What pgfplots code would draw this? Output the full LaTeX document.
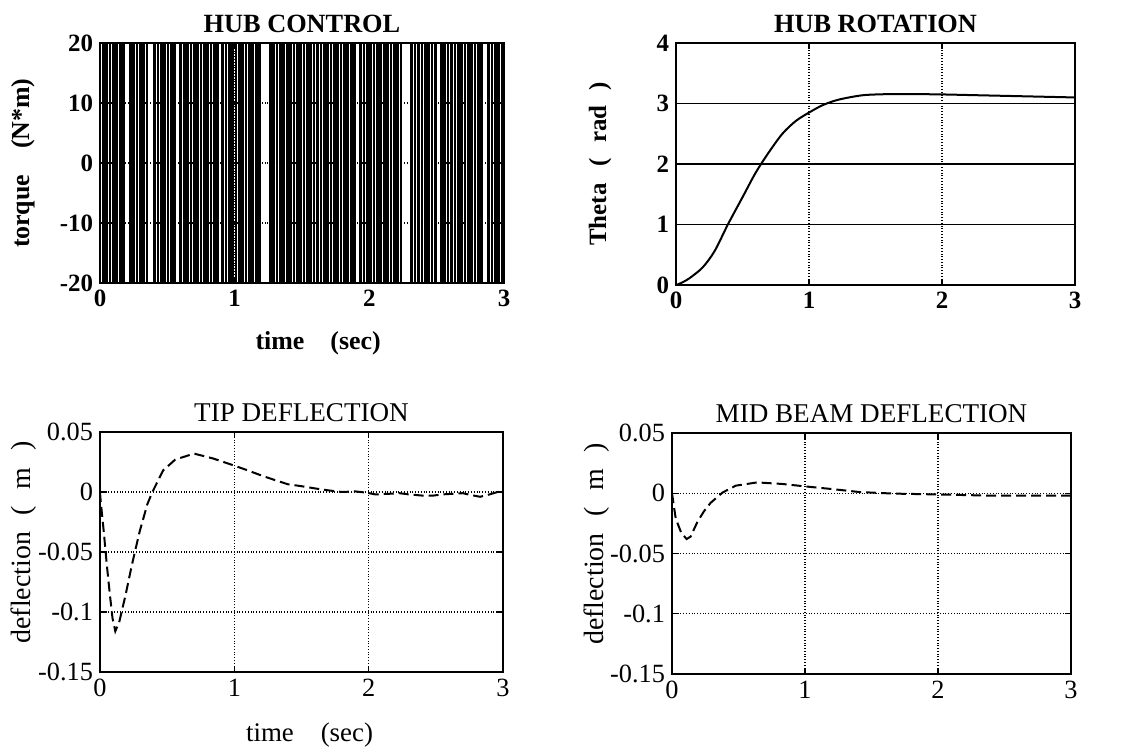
\documentclass[border=0pt]{standalone}
\usepackage{pgfplots}
\pgfplotsset{compat=1.18}
\usepackage{fontspec}
\setmainfont{Liberation Serif}

\pgfplotsset{
  every axis title/.style={at={(axis description cs:0.5,1.08)}, anchor=center},
  panel/.style={
    scale only axis, xmin=0, xmax=3,
    xtick={0,1,2,3}, xticklabels={0,1,2,3},
    axis line style={line width=1bp},
    tick style={line width=0.6bp, black}, major tick length=3bp,
    grid=major, grid style={densely dotted, line width=0.6bp, black},
    ylabel style={at={(axis description cs:-0.19,0.5)}, anchor=center},
  },
  boldtext/.style={
    ticklabel style={font=\bfseries\fontsize{12.5}{14}\selectfont},
    label style={font=\bfseries\fontsize{13}{15}\selectfont},
    title style={font=\bfseries\fontsize{13.2}{15}\selectfont},
  },
  plaintext/.style={
    ticklabel style={font=\fontsize{13.2}{15}\selectfont},
    label style={font=\fontsize{13.5}{15}\selectfont},
    title style={font=\fontsize{13.6}{15}\selectfont},
  },
  defl/.style={
    ymin=-0.15, ymax=0.05,
    ytick={-0.15,-0.1,-0.05,0,0.05},
    yticklabels={-0.15,-0.1,-0.05,0,0.05},
    ylabel={deflection\hspace{0.6em}(\hspace{0.6em}m\hspace{0.6em})},
    ylabel style={at={(axis description cs:-0.19,0.54)}, font=\fontsize{14}{16}\selectfont},
  },
}

\begin{document}
\begin{tikzpicture}
\path[use as bounding box] (0,0) rectangle (560.5bp,376bp);

% hub control
\begin{axis}[panel, boldtext, axis on top,
  at={(50bp,234.5bp)}, width=202bp, height=120bp,
  ymin=-20, ymax=20, ytick={-20,-10,0,10,20}, yticklabels={-20,-10,0,10,20},
  title={HUB CONTROL},
  ylabel={torque\quad(N*m)},
  xlabel={time\quad(sec)},
  xlabel style={at={(axis description cs:0.54,-0.25)}, anchor=center},
]
\addplot[const plot, black, line width=1.35bp] coordinates {
(0,20)(0.025,-20)(0.05,20)(0.075,-20)
(0.1,20)(0.125,-20)(0.15,20)(0.175,-20)
(0.225,20)(0.25,-20)(0.275,20)(0.3,-20)
(0.325,20)(0.35,-20)(0.405,20)(0.43,-20)
(0.455,20)(0.48,-20)(0.505,20)(0.53,-20)
(0.555,20)(0.6,-20)(0.625,20)(0.65,-20)
(0.675,20)(0.7,-20)(0.725,20)(0.75,-20)
(0.775,20)(0.8,-20)(0.825,20)(0.85,-20)
(0.875,20)(0.91,-20)(0.935,20)(0.96,-20)
(0.985,20)(1.01,-20)(1.035,20)(1.06,-20)
(1.085,20)(1.11,-20)(1.135,20)(1.16,-20)
(1.185,20)(1.265,-20)(1.29,20)(1.315,-20)
(1.34,20)(1.365,-20)(1.39,20)(1.415,-20)
(1.44,20)(1.465,-20)(1.49,20)(1.515,-20)
(1.54,20)(1.565,-20)(1.59,20)(1.615,-20)
(1.64,20)(1.665,-20)(1.69,20)(1.715,-20)
(1.74,20)(1.765,-20)(1.79,20)(1.815,-20)
(1.84,20)(1.865,-20)(1.89,20)(1.935,-20)
(1.96,20)(1.985,-20)(2.01,20)(2.035,-20)
(2.06,20)(2.085,-20)(2.11,20)(2.135,-20)
(2.16,20)(2.185,-20)(2.21,20)(2.235,-20)
(2.315,20)(2.34,-20)(2.365,20)(2.39,-20)
(2.415,20)(2.44,-20)(2.465,20)(2.49,-20)
(2.535,20)(2.56,-20)(2.585,20)(2.61,-20)
(2.635,20)(2.66,-20)(2.685,20)(2.71,-20)
(2.735,20)(2.76,-20)(2.785,20)(2.81,-20)
(2.835,20)(2.885,-20)(2.91,20)(2.935,-20)
(2.96,20)(2.985,-20)(3,20)
};
\end{axis}

% hub rotation
\begin{axis}[panel, boldtext,
  at={(338bp,233.5bp)}, width=199.5bp, height=121bp,
  ymin=0, ymax=4, ytick={0,1,2,3,4}, yticklabels={0,1,2,3,4},
  title={HUB ROTATION},
  ylabel={Theta\hspace{0.7em}(\hspace{0.6em}rad\hspace{0.6em})},
  ylabel style={font=\bfseries\fontsize{12.5}{14}\selectfont},
  y grid style={solid, line width=0.8bp, black},
]
\addplot[black, line width=1bp, smooth] coordinates {
(0,0)(0.035,0.03)(0.1,0.11)(0.2,0.29)(0.29,0.56)(0.39,1.0)
(0.5,1.45)(0.6,1.86)(0.7,2.2)(0.8,2.5)(0.9,2.71)(1.0,2.85)(1.1,2.97)
(1.2,3.05)(1.3,3.10)(1.42,3.14)(1.6,3.155)(1.8,3.155)(2.0,3.15)
(2.2,3.14)(2.4,3.13)(2.6,3.12)(2.8,3.11)(3.0,3.10)
};
\end{axis}

% tip deflection
\begin{axis}[panel, plaintext, defl,
  at={(50bp,40bp)}, width=201.5bp, height=120bp,
  title={TIP DEFLECTION},
  xlabel={time\quad(sec)},
  xlabel style={at={(axis description cs:0.52,-0.2625)}, anchor=center},
]
\addplot[black, line width=1bp, dash pattern=on 5bp off 2.5bp] coordinates {
(0,0)(0.005,-0.0075)(0.028,-0.033)(0.051,-0.061)(0.074,-0.086)(0.093,-0.105)
(0.114,-0.116)(0.144,-0.108)(0.19,-0.086)(0.237,-0.061)(0.295,-0.033)
(0.353,-0.010)(0.39,0)(0.47,0.018)(0.56,0.027)(0.7,0.032)(0.84,0.028)
(1.0,0.022)(1.1,0.018)(1.21,0.0134)(1.3,0.01)(1.4,0.0064)(1.49,0.005)
(1.6,0.003)(1.69,0.0015)(1.8,0.0)
(1.9,0.0005)(1.98,-0.0005)(2.05,-0.002)(2.15,-0.0015)(2.23,-0.001)(2.3,-0.002)
(2.4,-0.003)(2.48,-0.003)(2.55,-0.002)(2.62,-0.0015)(2.7,-0.001)(2.76,-0.0025)
(2.83,-0.004)(2.9,-0.002)(2.96,0.0)(3,-0.001)
};
\end{axis}

% mid beam deflection
\begin{axis}[panel, plaintext, defl,
  at={(336bp,39bp)}, width=199.5bp, height=120.5bp,
  title={MID BEAM DEFLECTION},
]
\addplot[black, line width=1bp, dash pattern=on 5bp off 2.5bp] coordinates {
(0,0)(0.028,-0.021)(0.07,-0.033)(0.11,-0.038)(0.14,-0.036)(0.19,-0.024)
(0.24,-0.015)(0.29,-0.008)(0.38,0.0006)(0.48,0.0063)(0.64,0.009)
(0.83,0.0077)(1.0,0.0057)(1.21,0.0034)(1.41,0.001)
(1.67,-0.0003)(2.0,-0.001)(2.4,-0.002)(3,-0.002)
};
\end{axis}
\end{tikzpicture}
\end{document}
